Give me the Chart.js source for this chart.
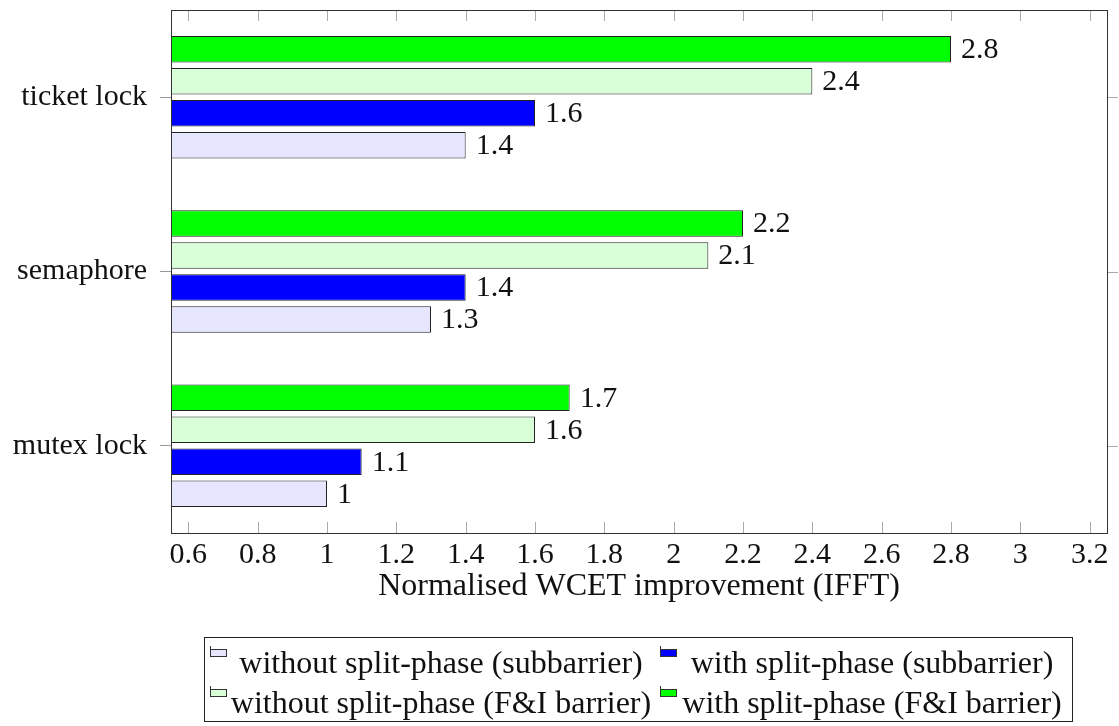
<!DOCTYPE html>
<html>
<head>
<meta charset="utf-8">
<script src="https://cdn.jsdelivr.net/npm/chart.js"></script>
<style>
  body { margin: 0; background: white; }
  #wrap { position: relative; width: 1119px; height: 726px; }
  #legend {
    position: absolute; left: 204px; top: 637px; width: 869px; height: 85px;
    border: 1px solid #222; box-sizing: border-box;
    font-family: "Liberation Serif", serif; font-size: 32px; color: #111;
  }
  .icon { position: absolute; width: 17px; height: 11px; border-left: 1px solid #333; box-sizing: border-box; }
  .icon span { position: absolute; left: -1px; bottom: 0; width: 17px; height: 8px; border: 1px solid #333; box-sizing: border-box; }
  .label { position: absolute; line-height: 32px; white-space: nowrap; text-align: center; }
</style>
</head>
<body>
<div id="wrap">
  <canvas id="chart" width="1119" height="726"></canvas>
  <div id="legend"></div>
</div>
<script>
// data
const categories = ['ticket lock', 'semaphore', 'mutex lock'];
const withSplitFI = [2.8, 2.2, 1.7];
const withoutSplitFI = [2.4, 2.1, 1.6];
const withSplitSub = [1.6, 1.4, 1.1];
const withoutSplitSub = [1.4, 1.3, 1.0];
const xTicks = [0.6, 0.8, 1, 1.2, 1.4, 1.6, 1.8, 2, 2.2, 2.4, 2.6, 2.8, 3, 3.2];
const XMIN = 0.55, XMAX = 3.25;

const series = [
  { label: 'with split-phase (F&I barrier)', data: withSplitFI, color: '#00ff00' },
  { label: 'without split-phase (F&I barrier)', data: withoutSplitFI, color: '#d9ffd9' },
  { label: 'with split-phase (subbarrier)', data: withSplitSub, color: '#0000ff' },
  { label: 'without split-phase (subbarrier)', data: withoutSplitSub, color: '#e6e6ff' }
];

const FONT = '"Liberation Serif", serif';
Chart.defaults.font.family = FONT;
Chart.defaults.font.size = 30;
Chart.defaults.color = '#111';

const fmt = v => String(Math.round(v * 10) / 10);

// frame, inward ticks and value labels (pgfplots look)
const framePlugin = {
  id: 'frame',
  afterDatasetsDraw(chart) {
    const { ctx, chartArea: a, scales: { x, y } } = chart;
    ctx.save();
    ctx.lineWidth = 1;
    ctx.strokeStyle = '#aaa';
    ctx.beginPath();
    xTicks.forEach(v => {
      const px = Math.round(x.getPixelForValue(v)) + 0.5;
      ctx.moveTo(px, a.top); ctx.lineTo(px, a.top + 11);
      ctx.moveTo(px, a.bottom); ctx.lineTo(px, a.bottom - 11);
    });
    categories.forEach((c, i) => {
      const py = Math.round(y.getPixelForValue(i)) + 0.5;
      ctx.moveTo(a.right, py); ctx.lineTo(a.right + 11, py);
    });
    ctx.stroke();

    ctx.strokeStyle = '#333';
    ctx.strokeRect(Math.round(a.left) + 0.5, Math.round(a.top) + 0.5,
      Math.round(a.right - a.left), Math.round(a.bottom - a.top));

    ctx.fillStyle = '#111';
    ctx.font = '30px ' + FONT;
    ctx.textAlign = 'left';
    ctx.textBaseline = 'middle';
    chart.data.datasets.forEach((ds, di) => {
      chart.getDatasetMeta(di).data.forEach((el, i) => {
        ctx.fillText(fmt(ds.data[i]), el.x + 10, el.y + 1);
      });
    });
    ctx.restore();
  }
};

new Chart(document.getElementById('chart'), {
  type: 'bar',
  data: {
    labels: categories,
    datasets: series.map(s => ({
      label: s.label,
      data: s.data,
      backgroundColor: s.color,
      borderColor: '#222',
      borderWidth: 1,
      base: XMIN,
      categoryPercentage: 0.734,
      barPercentage: 0.83
    }))
  },
  options: {
    indexAxis: 'y',
    responsive: false,
    animation: false,
    layout: { padding: { top: 10, right: 12, left: 0, bottom: 0 } },
    plugins: { legend: { display: false }, tooltip: { enabled: false } },
    scales: {
      x: {
        type: 'linear',
        min: XMIN,
        max: XMAX,
        afterBuildTicks: s => { s.ticks = xTicks.map(v => ({ value: v })); },
        afterFit: s => { s.height = 193; },
        grid: { display: false, drawTicks: false },
        border: { display: false },
        ticks: { padding: 4, callback: v => fmt(v), maxRotation: 0, autoSkip: false },
        title: {
          display: true,
          text: 'Normalised WCET improvement (IFFT)',
          font: { size: 32 },
          padding: { top: 0, bottom: 120 }
        }
      },
      y: {
        afterFit: s => { s.width = 171; s.paddingTop = 0; s.paddingBottom = 0; },
        grid: { drawOnChartArea: false, drawTicks: true, tickLength: 11, offset: false, color: '#999' },
        border: { display: false },
        ticks: { padding: 13 }
      }
    }
  },
  plugins: [framePlugin]
});

// legend, laid out like the pgfplots two-column legend
const legendOrder = [3, 2, 1, 0];
const cells = [
  { icon: [5, 8], center: 236, top: 8 },
  { icon: [455, 8], center: 667, top: 8 },
  { icon: [5, 48], center: 236, top: 48 },
  { icon: [455, 48], center: 667, top: 48 }
];
const legend = document.getElementById('legend');
legendOrder.forEach((si, k) => {
  const s = series[si], c = cells[k];
  const icon = document.createElement('div');
  icon.className = 'icon';
  icon.style.left = c.icon[0] + 'px';
  icon.style.top = c.icon[1] + 'px';
  const r = document.createElement('span');
  r.style.background = s.color;
  icon.appendChild(r);
  legend.appendChild(icon);
  const t = document.createElement('div');
  t.className = 'label';
  t.style.left = (c.center - 220) + 'px';
  t.style.width = '440px';
  t.style.top = c.top + 'px';
  t.textContent = s.label;
  legend.appendChild(t);
});
</script>
</body>
</html>
